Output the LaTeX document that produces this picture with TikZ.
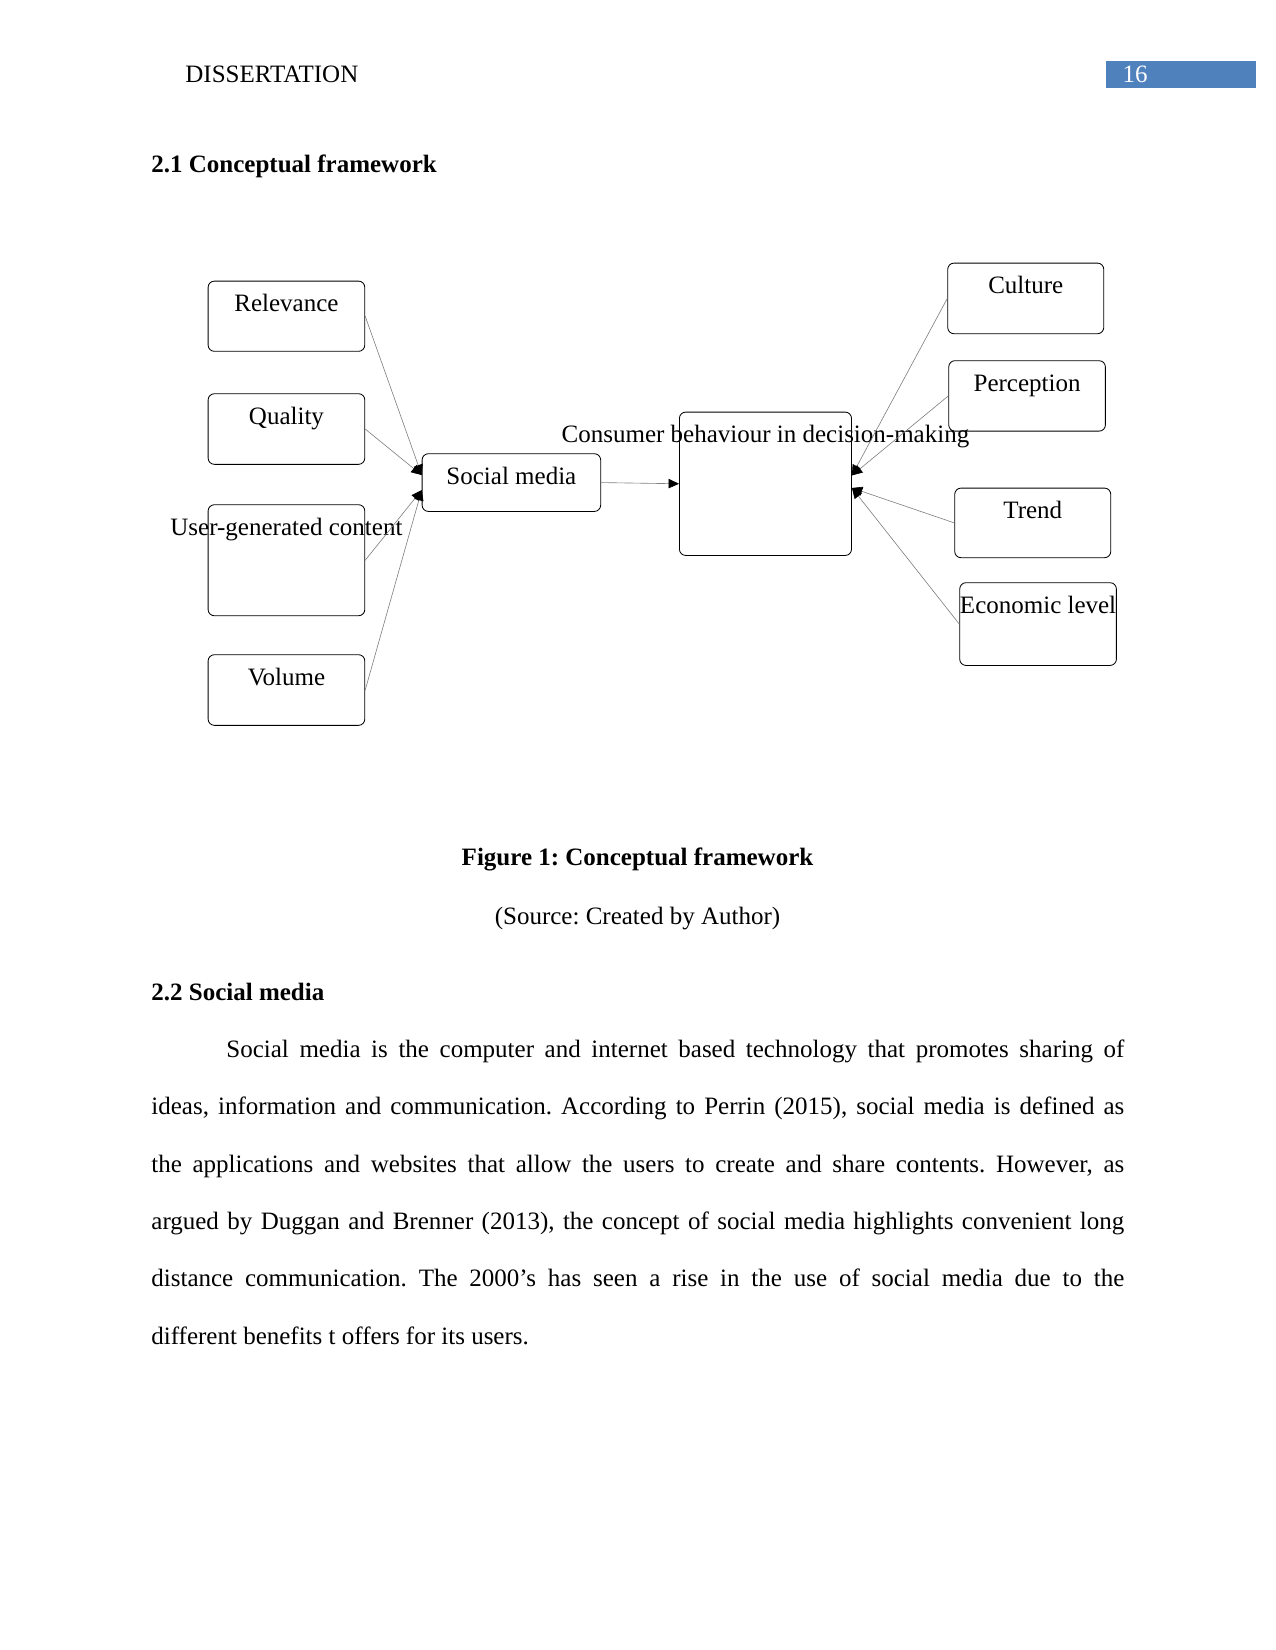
\documentclass[tikz,border=0pt,12pt]{standalone}
\usepackage{fontspec}
\setmainfont{Liberation Serif}
\usetikzlibrary{arrows.meta}
\definecolor{pgblue}{RGB}{79,129,189}
\frenchspacing
\tikzset{
  factor/.style={draw, rounded corners=3pt, inner sep=0pt, anchor=north west,
    minimum width=75.2pt, text height=14.6pt, text depth=19.2pt},
  link/.style={draw=gray, line width=0.3pt,
    -{Triangle[length=5pt,width=4.5pt,color=black]}}
}
\newcommand{\overhang}[1]{\makebox[0pt]{#1}}
\begin{document}
\begin{tikzpicture}[x=0.48pt, y=-0.48pt]
\useasboundingbox (0,0) rectangle (1275,1650);
% page head
\node[anchor=base west, inner sep=0pt] (head) at (185,82.7) {DISSERTATION};
\fill[pgblue] (1106,61) rectangle (1255.7,88.3);
\node[anchor=base west, inner sep=0pt, text=white] (pagenum) at (1122.3,82.7) {16};
\node[anchor=base west, inner sep=0pt, font=\bfseries] (sec1) at (151,172.7) {2.1 Conceptual framework};

% left side
\node[factor, text depth=19.1pt] (rel) at (207.7,280.7) {Relevance};
\node[factor, text depth=19.3pt] (qual) at (207.7,393.3) {Quality};
\node[factor, text depth=38.7pt] (ugc) at (207.7,504.3) {\overhang{User-generated content}};
\node[factor, text depth=19.3pt] (vol) at (207.7,654.3) {Volume};

% middle
\node[factor, minimum width=85.7pt, text depth=13.1pt] (sm) at (421.7,453.3) {Social media};
\node[factor, minimum width=82.6pt, text height=14.4pt, text depth=54.4pt] (cb) at (679,411.7) {\overhang{Consumer behaviour in decision-making}};

% right side
\node[factor, minimum width=74.9pt, text depth=19.3pt] (cul) at (947.3,262.7) {Culture};
\node[factor] (perc) at (948.3,360.3) {Perception};
\node[factor, minimum width=74.9pt, text depth=18.8pt] (trend) at (954.3,487.7) {Trend};
\node[factor, text depth=25.1pt] (eco) at (959.3,582.3) {\overhang{Economic level}};

% connectors
\draw[link] (rel.east) -- ([yshift=3.6pt]sm.west);
\draw[link] (qual.east) -- ([yshift=3.6pt]sm.west);
\draw[link] (ugc.east) -- ([yshift=-3.6pt]sm.west);
\draw[link] (vol.east) -- ([yshift=-3.6pt]sm.west);
\draw[link] (sm.east) -- (cb.west);
\draw[link] (cul.west) -- ([yshift=4pt]cb.east);
\draw[link] (perc.west) -- ([yshift=4pt]cb.east);
\draw[link] (trend.west) -- ([yshift=-2pt]cb.east);
\draw[link] (eco.west) -- ([yshift=-2pt]cb.east);

% caption and text
\node[anchor=base, inner sep=0pt, font=\bfseries] (cap) at (637.5,865) {Figure 1: Conceptual framework};
\node[anchor=base, inner sep=0pt] (src) at (637.5,924) {(Source: Created by Author)};
\node[anchor=base west, inner sep=0pt, font=\bfseries] (sec2) at (151,1000.7) {2.2 Social media};
\node[anchor=base west, inner sep=0pt, text width=467pt, align=justify,
  font=\fontsize{12pt}{27.55pt}\selectfont] (body) at (151,1057.3)
  {\hspace*{36pt}Social media is the computer and internet based technology that promotes sharing of\linebreak
  ideas, information and communication. According to Perrin (2015), social media is defined as\linebreak
  the applications and websites that allow the users to create and share contents. However, as\linebreak
  argued by Duggan and Brenner (2013), the concept of social media highlights convenient long\linebreak
  distance communication. The 2000’s has seen a rise in the use of social media due to the\linebreak
  different benefits t offers for its users.};
\end{tikzpicture}
\end{document}
